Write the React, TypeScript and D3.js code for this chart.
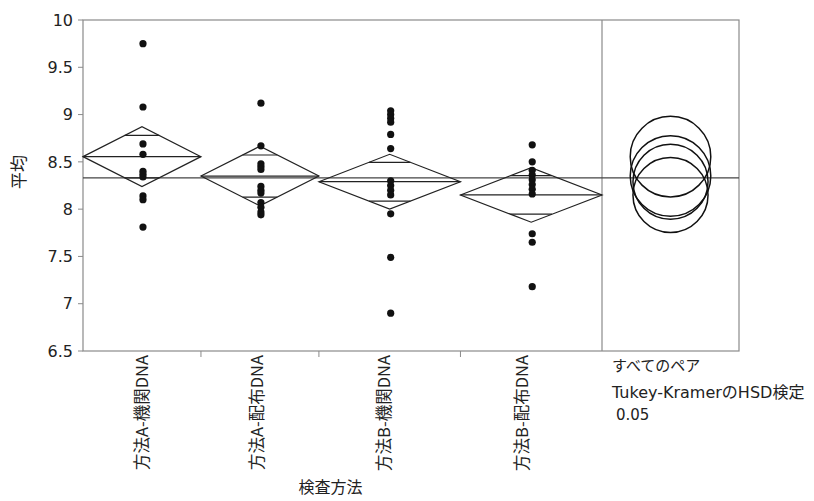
import React from "react";
import * as d3 from "d3";

const categories = ["方法A-機関DNA", "方法A-配布DNA", "方法B-機関DNA", "方法B-配布DNA"];
const groupN = [10, 10, 12, 12];
const pointsA1 = [9.75, 9.08, 8.69, 8.58, 8.40, 8.37, 8.34, 8.14, 8.10, 7.81];
const pointsA2 = [9.12, 8.67, 8.48, 8.45, 8.42, 8.24, 8.20, 8.17, 8.07, 8.02, 7.97, 7.94];
const pointsB1 = [9.04, 9.00, 8.96, 8.92, 8.79, 8.64, 8.30, 8.25, 8.20, 8.15, 7.95, 7.49, 6.90];
const pointsB2 = [8.68, 8.50, 8.41, 8.36, 8.31, 8.26, 8.21, 8.16, 7.74, 7.65, 7.18];
const groupPoints = [pointsA1, pointsA2, pointsB1, pointsB2];
const means = [8.555, 8.35, 8.29, 8.15];
const ciHalf = [0.317, 0.315, 0.29, 0.288];
const circleRadius = [0.426, 0.426, 0.397, 0.397];
const grandMean = 8.33;
const yTicks = [6.5, 7, 7.5, 8, 8.5, 9, 9.5, 10];
const yTitle = "平均";
const xTitle = "検査方法";
const panelLines = ["すべてのペア", "Tukey-KramerのHSD検定", "0.05"];

const W = 814;
const H = 501;
const left = 83;
const right = 602;
const panelRight = 739;
const top = 20;
const bottom = 351;
const FONT = "'DejaVu Sans', 'Noto Sans CJK JP', sans-serif";
const JFONT = "'Noto Sans CJK JP', 'DejaVu Sans', sans-serif";

export default function App() {
  const y = d3.scaleLinear().domain([6.5, 10]).range([bottom, top]);
  const total = d3.sum(groupN);
  const xc = d3.scaleLinear().domain([0, total]).range([left, right]);
  const cum = d3.cumsum(groupN);
  const bands = groupN.map((n, i) => {
    const s = i === 0 ? 0 : cum[i - 1];
    return { x0: xc(s), x1: xc(s + n), cx: xc(s + n / 2) };
  });
  const panelCx = (right + panelRight) / 2;
  const frame = "#8a8a8a";

  return (
    <svg width={W} height={H} style={{ position: "absolute", left: 0, top: 0, background: "#fff" }}>
      <rect x={0} y={0} width={W} height={H} fill="#fff" />
      {/* frame */}
      <rect x={left} y={top} width={panelRight - left} height={bottom - top} fill="none" stroke={frame} strokeWidth={1.2} />
      <line x1={right} x2={right} y1={top} y2={bottom} stroke={frame} strokeWidth={1.2} />
      {/* y ticks */}
      {yTicks.map((t) => (
        <g key={t}>
          <line x1={left - 5} x2={left} y1={y(t)} y2={y(t)} stroke={frame} />
          <text x={left - 10} y={y(t)} dy="0.36em" textAnchor="end" fontSize={16} fontFamily={FONT} fill="#222">
            {String(t)}
          </text>
        </g>
      ))}
      <text transform={`translate(25,172) rotate(-90)`} textAnchor="middle" fontSize={17} fontFamily={JFONT} fill="#222">
        {yTitle}
      </text>
      {/* x ticks at band boundaries */}
      {bands.slice(0, -1).map((b, i) => (
        <line key={i} x1={b.x1} x2={b.x1} y1={bottom} y2={bottom + 6} stroke={frame} />
      ))}
      {/* category labels */}
      {categories.map((c, i) => (
        <text
          key={c}
          transform={`translate(${bands[i].cx + 6 - 3 * i},${bottom + 4}) rotate(-90)`}
          textAnchor="end"
          fontSize={16.5}
          fontFamily={JFONT}
          fill="#222"
        >
          {c}
        </text>
      ))}
      <text x={(left + right) / 2 - 12} y={H - 8} textAnchor="middle" fontSize={16} fontFamily={JFONT} fill="#222">
        {xTitle}
      </text>
      {/* grand mean */}
      <line x1={left} x2={panelRight} y1={y(grandMean)} y2={y(grandMean)} stroke="#444" strokeWidth={1.3} />
      {/* diamonds */}
      {bands.map((b, i) => {
        const m = means[i];
        const h = ciHalf[i];
        const half = (b.x1 - b.x0) / 2;
        const o = h / Math.SQRT2;
        const ow = half * (1 - 1 / Math.SQRT2);
        const path = d3.path();
        path.moveTo(b.x0, y(m));
        path.lineTo(b.cx, y(m + h));
        path.lineTo(b.x1, y(m));
        path.lineTo(b.cx, y(m - h));
        path.closePath();
        return (
          <g key={i} stroke="#222" strokeWidth={1.2} fill="none">
            <path d={path.toString()} />
            <line x1={b.x0} x2={b.x1} y1={y(m)} y2={y(m)} />
            <line x1={b.cx - ow} x2={b.cx + ow} y1={y(m + o)} y2={y(m + o)} />
            <line x1={b.cx - ow} x2={b.cx + ow} y1={y(m - o)} y2={y(m - o)} />
          </g>
        );
      })}
      {/* points */}
      {groupPoints.map((pts, i) =>
        pts.map((v, j) => <circle key={`${i}-${j}`} cx={bands[i].cx + 1} cy={y(v)} r={3.6} fill="#111" />)
      )}
      {/* comparison circles */}
      {means.map((m, i) => (
        <circle
          key={i}
          cx={panelCx}
          cy={y(m)}
          r={y(m - circleRadius[i]) - y(m)}
          fill="none"
          stroke="#111"
          strokeWidth={1.5}
        />
      ))}
      {/* panel text */}
      <text x={612} y={371} fontSize={15} fontFamily={JFONT} fill="#222">{panelLines[0]}</text>
      <text x={612} y={398} fontSize={16} fontFamily={FONT} fill="#222">{panelLines[1]}</text>
      <text x={616} y={420} fontSize={15} fontFamily={FONT} fill="#222">{panelLines[2]}</text>
    </svg>
  );
}
